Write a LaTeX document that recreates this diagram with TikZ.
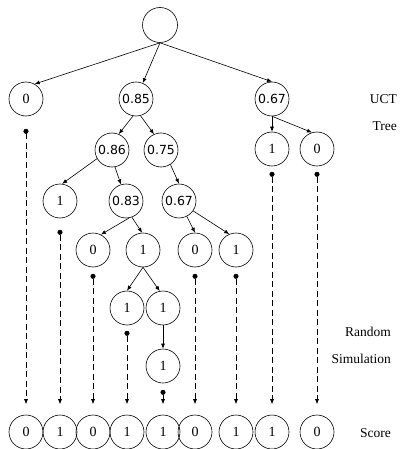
\documentclass[tikz,border=0pt]{standalone}
\usepackage{fontspec}
\setmainfont{Liberation Serif}
\newfontfamily\decfont{DejaVu Sans}
\usetikzlibrary{arrows.meta}
\begin{document}
\begin{tikzpicture}[x=1pt,y=-1pt,
  nd/.style={draw, circle, minimum size=34pt, inner sep=0pt, line width=0.6pt, font=\fontsize{14}{14}\selectfont},
  dec/.style={nd, font=\decfont\fontsize{12.5}{12.5}\selectfont},
  edge/.style={-{Latex[length=5pt,width=4pt]}, line width=0.6pt},
  sim/.style={{Circle[length=5pt]}-{Latex[length=5pt,width=4pt]}, line width=0.6pt, dash pattern=on 6pt off 3.5pt, shorten >=10.5pt},
  lbl/.style={anchor=east, inner sep=0pt, font=\fontsize{13.5}{13.5}\selectfont}]
\useasboundingbox (0,0) rectangle (401,449);
% tree
\node[nd, minimum size=35pt] (root) at (160,25) {};
\node[nd]  (a0)  at (26,99)   {0};
\node[dec] (a85) at (136,99)  {0.85};
\node[dec] (a67) at (272,99)  {0.67};
\node[dec] (b86) at (112,150) {0.86};
\node[dec] (b75) at (161,150) {0.75};
\node[nd]  (b1)  at (272,149) {1};
\node[nd]  (b0)  at (317,149) {0};
\node[nd]  (c1)  at (60,201)  {1};
\node[dec] (c83) at (126,201) {0.83};
\node[dec] (c67) at (179,201) {0.67};
\node[nd]  (d0)  at (93,250)  {0};
\node[nd]  (d1)  at (143,250) {1};
\node[nd]  (d0b) at (195,250) {0};
\node[nd]  (d1b) at (236,250) {1};
\node[nd]  (e1)  at (127,308) {1};
\node[nd]  (e1b) at (163,308) {1};
\node[nd]  (f1)  at (163,366) {1};
% scores
\node[nd] (s1) at (26,432)  {0};
\node[nd] (s2) at (60,432)  {1};
\node[nd] (s3) at (93,432)  {0};
\node[nd] (s4) at (127,432) {1};
\node[nd] (s5) at (163,432) {1};
\node[nd] (s6) at (195,432) {0};
\node[nd] (s7) at (236,432) {1};
\node[nd] (s8) at (272,432) {1};
\node[nd] (s9) at (317,432) {0};
% tree edges
\draw[edge] (root.south) -- (a0.60);
\draw[edge] (root.south) -- (a85.67);
\draw[edge] (root.south) -- (a67.north);
\draw[edge] (a85.-100) -- (b86.67);
\draw[edge] (a85.-75) -- (b75.114);
\draw[edge] (b86.210) -- (c1.83);
\draw[edge] (b86.-80) -- (c83.107);
\draw[edge] (b75.-57) -- (c67.north);
\draw[edge] (c83.-80) -- (d0.63);
\draw[edge] (c83.-70) -- (d1.93);
\draw[edge] (c67.-63) -- (d0b.north);
\draw[edge] (c67.-35) -- (d1b.113);
\draw[edge] (a67.south) -- (b1.north);
\draw[edge] (a67.south) -- (b0.107);
\draw[edge] (d1.south) -- (e1.north);
\draw[edge] (d1.south) -- (e1b.101);
\draw[edge] (e1b.south) -- (f1.north);
% random simulations
\draw[sim, shorten <=12.5pt] (a0) -- (s1);
\draw[sim, shorten <=11.5pt] (c1) -- (s2);
\draw[sim, shorten <=6.5pt] (d0) -- (s3);
\draw[sim, shorten <=5.5pt] (e1) -- (s4);
\draw[sim, shorten <=6.5pt] (f1) -- (s5);
\draw[sim, shorten <=6.5pt] (d0b) -- (s6);
\draw[sim, shorten <=6.5pt] (d1b) -- (s7);
\draw[sim, shorten <=5.5pt] (b1) -- (s8);
\draw[sim, shorten <=5.5pt] (b0) -- (s9);
% labels
\node[lbl] (lucT) at (397,99)  {UCT};
\node[lbl] (ltree) at (397,126) {Tree};
\node[lbl] (lrand) at (391,332) {Random};
\node[lbl] (lsim) at (391,359) {Simulation};
\node[lbl] (lscore) at (391,433) {Score};
\end{tikzpicture}
\end{document}
